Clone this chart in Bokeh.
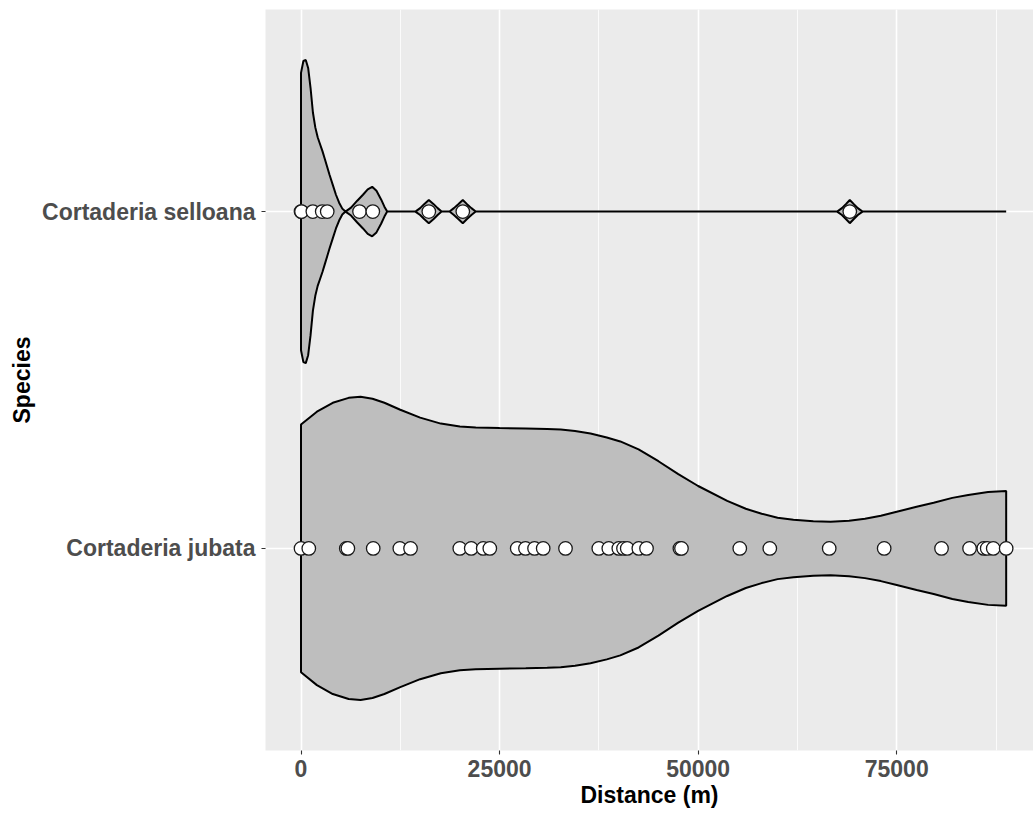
import numpy as np
from bokeh.plotting import figure
from bokeh.models import Range1d, FixedTicker, SingleIntervalTicker, NumeralTickFormatter
from bokeh.embed import file_html
from bokeh.resources import INLINE

# ---------------- data ----------------
species = ["Cortaderia jubata", "Cortaderia selloana"]

# observed distances (m), read from the points
jubata_points = [0, 980, 5700, 5900, 9090, 12440, 13790, 19990, 21430, 22940, 23770,
                 27220, 28260, 29400, 30490, 33300, 37490, 38750, 40010, 40600, 41070,
                 42530, 43500, 47700, 47900, 55240, 59020, 66500, 73420, 80640, 84170,
                 85960, 86390, 87150, 88780]
selloana_points = [0, 60, 1490, 2670, 3300, 7365, 9040, 16090, 20370, 69090]

# violin outlines: distance (m) and relative density width
jubata_dist = [0, 2000, 4000, 6000, 7500, 9000, 10500, 12500, 15000, 17600, 20000, 22000,
               25000, 28300, 31000, 32700, 34500, 36450, 38500, 40200, 42500, 45000, 47500,
               50000, 53660, 56000, 58000, 60000, 62000, 64500, 66670, 69000, 71000, 73000,
               75000, 77500, 79650, 82000, 84000, 86500, 88780]
jubata_dens = [125, 138, 147, 152, 153, 151, 147, 140, 132, 126, 123, 122,
               121.5, 121, 120.5, 120, 118.5, 116, 112, 108, 100, 88, 75,
               63, 48, 40, 35, 31, 29, 27.5, 27, 28, 30, 33,
               37, 42, 46, 51, 54, 57, 58]

selloana_dist = [0, 300, 600, 900, 1200, 1500, 1800, 2100, 2400, 2700, 3000, 3300, 3600,
                 4000, 4400, 4800, 5200, 5600, 6300, 7080, 7800, 8400, 8960, 9500, 10100,
                 10500, 10850, 14400, 15000, 15500, 16090, 16700, 17200, 17700, 18700,
                 19250, 19800, 20370, 20900, 21450, 22000, 67500, 68100, 68600, 69090,
                 69600, 70100, 70700, 88780]
selloana_dens = [140, 152, 153, 145, 125, 100, 85, 75, 68, 61, 53, 45, 37,
                 27, 17, 9, 3, 0, 4, 11, 17, 22.5, 25, 21, 12,
                 5, 0, 0, 3.5, 7.5, 11.7, 7.5, 3.5, 0, 0,
                 3.5, 7.5, 11.7, 7.5, 3.5, 0, 0, 3.5, 7.5, 11.7,
                 7.5, 3.5, 0, 0]

# ---------------- figure ----------------
FONT = "Liberation Sans"
p = figure(width=1033, height=813, x_range=Range1d(-4470, 92220), y_range=Range1d(0.4, 2.6),
           output_backend="svg", toolbar_location=None,
           min_border_left=265, min_border_right=0, min_border_top=9, min_border_bottom=63)
p.background_fill_color = "#EBEBEB"
p.border_fill_color = "white"
p.outline_line_color = None

wmax = max(max(jubata_dens), max(selloana_dens))
half = 0.45

for pos, dist, dens in [(1, jubata_dist, jubata_dens), (2, selloana_dist, selloana_dens)]:
    d = np.array(dist, dtype=float)
    w = np.array(dens, dtype=float) / wmax * half
    xs = np.concatenate([d, d[::-1]])
    ys = np.concatenate([pos + w, (pos - w)[::-1]])
    p.patch(xs, ys, fill_color="#BEBEBE", line_color="black", line_width=2)

for pos, pts in [(1, jubata_points), (2, selloana_points)]:
    p.scatter(pts, [pos] * len(pts), size=13.5, fill_color="white",
              line_color="#1a1a1a", line_width=1.3)

# x axis
p.xaxis.ticker = SingleIntervalTicker(interval=25000, num_minor_ticks=2)
p.xaxis.formatter = NumeralTickFormatter(format="0")
p.xgrid.ticker = p.xaxis.ticker
p.xgrid.grid_line_color = "white"
p.xgrid.grid_line_width = 1.6
p.xgrid.minor_grid_line_color = "white"
p.xgrid.minor_grid_line_width = 0.8

# y axis
p.yaxis.ticker = FixedTicker(ticks=[1, 2])
p.yaxis.major_label_overrides = {1: species[0], 2: species[1]}
p.ygrid.ticker = FixedTicker(ticks=[1, 2])
p.ygrid.grid_line_color = "white"
p.ygrid.grid_line_width = 1.6

for ax in (p.xaxis, p.yaxis):
    ax.axis_line_color = None
    ax.major_tick_line_color = "#333333"
    ax.major_tick_line_width = 1.1
    ax.major_tick_out = 4
    ax.major_tick_in = 0
    ax.minor_tick_line_color = None
    ax.major_label_text_font = FONT
    ax.major_label_text_font_style = "bold"
    ax.major_label_text_font_size = "23px"
    ax.major_label_text_color = "#4D4D4D"
    ax.axis_label_text_font = FONT
    ax.axis_label_text_font_style = "bold"
    ax.axis_label_text_font_size = "23px"
    ax.axis_label_text_color = "black"

p.xaxis.major_label_standoff = 5
p.yaxis.major_label_standoff = 6

p.yaxis.axis_label = "Species"
p.yaxis.axis_label_standoff = 4
p.xaxis.axis_label = "Distance (m)"
p.xaxis.axis_label_standoff = 2

open("out.html", "w").write(file_html(p, INLINE))
